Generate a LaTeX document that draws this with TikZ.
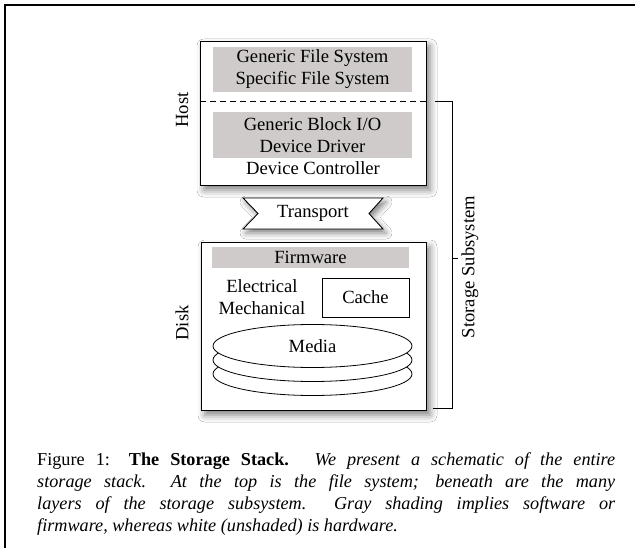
\documentclass[tikz,border=0pt]{standalone}
\usepackage{fontspec}
\setmainfont{Liberation Serif}
\usetikzlibrary{shapes.geometric,shadows.blur}
\definecolor{shadegray}{RGB}{206,203,202}
\tikzset{
  hwbox/.style={draw=black, line width=0.9pt, fill=white, inner sep=0pt,
    blur shadow={shadow xshift=4pt, shadow yshift=-5pt, shadow blur radius=7pt, shadow opacity=50}},
  swbox/.style={fill=shadegray, draw=none, inner sep=0pt, align=center},
  lbl/.style={inner sep=0pt, align=center},
  disc/.style={ellipse, draw=black, line width=0.8pt, fill=white, minimum width=199pt, minimum height=43pt, inner sep=0pt},
  bracket/.style={draw=black, line width=0.9pt},
  every node/.style={font=\fontsize{18.6}{22}\selectfont}
}
\begin{document}
\begin{tikzpicture}[x=1pt,y=-1pt]
\useasboundingbox (0,0) rectangle (635,548);
\fill[white] (0,0) rectangle (635,548);
% outer frame (top and left)
\draw[line width=1.8pt] (5,548) -- (5,5) -- (635,5);

% Host box
\node[hwbox, minimum width=226pt, minimum height=144pt] (host) at (313,113) {};
\node[swbox, minimum width=199pt, minimum height=45pt] (fs) at (312.5,69.5) {Generic File System\\Specific File System};
\coordinate (dl) at (200,101);
\coordinate (dr) at (426,101);
\draw[dashed, line width=0.9pt, dash pattern=on 6pt off 4pt] (dl) -- (dr);
\node[swbox, minimum width=199pt, minimum height=46pt] (blk) at (312.5,135) {Generic Block I/O\\Device Driver};
\node[lbl] (ctl) at (313,168) {Device Controller};
\node[lbl, rotate=90] (hostlbl) at (182,110) {Host};

% Transport banner
\draw[line width=0.9pt, fill=white,
  blur shadow={shadow xshift=3pt, shadow yshift=-4pt, shadow blur radius=6pt, shadow opacity=50}]
  (243,198) -- (383,198) -- (369,213.5) -- (383,229) -- (243,229) -- (258,213.5) -- cycle;
\node[lbl] (transport) at (313,213) {Transport};

% Disk box
\node[hwbox, minimum width=225pt, minimum height=168pt] (disk) at (313.5,326) {};
\node[swbox, minimum width=197pt, minimum height=21pt] (fw) at (310.5,257.5) {Firmware};
\node[draw=black, line width=0.9pt, fill=white, minimum width=87pt, minimum height=39pt, inner sep=0pt] (cache) at (365.5,297.5) {Cache};
\node[lbl] (elmech) at (262,297.5) {Electrical\\Mechanical};
\node[disc] (disc3) at (312.5,374) {};
\node[disc] (disc2) at (312.5,360) {};
\node[disc] (media) at (312.5,346) {Media};
\node[lbl, rotate=90] (disklbl) at (182,323) {Disk};

% Storage subsystem bracket
\coordinate (bt) at (435,101);
\coordinate (bb) at (433,408);
\coordinate (bm) at (452,258);
\coordinate (bmt) at (458,258);
\draw[bracket] (bt) -| (bm |- bb) -- (bb);
\draw[bracket] (bm) -- (bmt);
\node[lbl, rotate=90] (sslbl) at (470,267) {Storage Subsystem};

% Caption
\node[anchor=north west, inner sep=0pt, text width=578pt, align=justify,
  font=\fontsize{18.2}{22}\selectfont] (caption) at (37,452)
  {Figure 1: \textbf{The Storage Stack.} \textit{We present a schematic of the entire\linebreak
  storage stack.\ \ At the top is the file system; beneath are the many\linebreak
  layers of the storage subsystem.\ \ Gray shading implies software or\linebreak
  firmware, whereas white (unshaded) is hardware.}};
\end{tikzpicture}
\end{document}
